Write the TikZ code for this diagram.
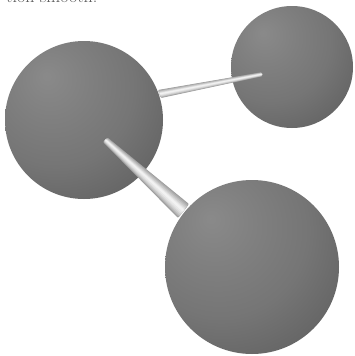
\documentclass[tikz,border=0pt]{standalone}
\usepackage{tikz}
\usetikzlibrary{calc}
\pgfdeclareradialshading{ballshade}{\pgfpoint{-12bp}{14bp}}{%
  color(0bp)=(black!46);
  color(12bp)=(black!50);
  color(25bp)=(black!54);
  color(33bp)=(black!58);
  color(45bp)=(black!64);
  color(100bp)=(black!68)}
\tikzset{
  ball/.style={circle,inner sep=0pt,minimum size=#1,shading=ballshade},
  captext/.style={anchor=base west,inner sep=0pt,font=\fontsize{18}{18}\selectfont,text=black!65},
}
% #1,#2: the two tip corners; #3,#4: the two corners at the wide end
\newcommand{\taperedrod}[4]{%
  \foreach \f/\g/\s in {0/1/62,.06/.94/68,.14/.88/74,.22/.82/80,.30/.74/86,.36/.66/91,.42/.56/95}{%
    \fill[black!\the\numexpr100-\s\relax,rounded corners=1pt]
      ($(#1)!\f!(#2)$) -- ($(#1)!\g!(#2)$) -- ($(#3)!\g!(#4)$) -- ($(#3)!\f!(#4)$) -- cycle;
  }%
}
\begin{document}
\begin{tikzpicture}[x=1pt,y=-1pt]
\useasboundingbox (0,0) rectangle (355,356);
\fill[white] (0,0) rectangle (355,356);
\clip (0,0) rectangle (355,356);
\node[captext] (cap) at (6,2) {tion smooth.};
\coordinate (r1a) at (261.8,72.2);
\coordinate (r1b) at (262.4,76.2);
\coordinate (r1c) at (158,90);
\coordinate (r1d) at (161,98);
\coordinate (r2a) at (107.5,137.5);
\coordinate (r2b) at (103,142);
\coordinate (r2c) at (189,204);
\coordinate (r2d) at (178,218);
% far sphere, thin rod, left sphere, thick rod, near sphere
\node[ball=122pt] (b) at (292,67) {};
\taperedrod{r1a}{r1b}{r1c}{r1d}
\node[ball=158pt] (a) at (84,120) {};
\taperedrod{r2a}{r2b}{r2c}{r2d}
\node[ball=174pt] (c) at (252,267) {};
\end{tikzpicture}
\end{document}
